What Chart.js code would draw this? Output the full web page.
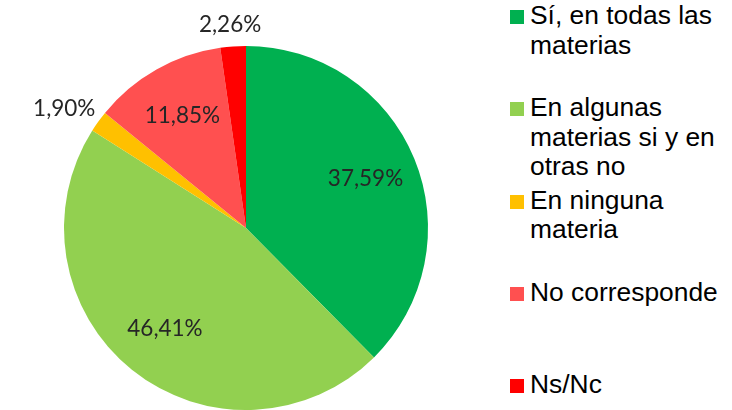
<!DOCTYPE html>
<html>
<head>
<meta charset="utf-8">
<script src="https://cdn.jsdelivr.net/npm/chart.js@4"></script>
<style>
  html, body { margin: 0; padding: 0; background: #fff; width: 732px; height: 410px; overflow: hidden; }
  #wrap { position: absolute; left: 0; top: 0; width: 492px; height: 410px; }
  #legend { position: absolute; left: 510px; top: 1px; width: 222px; font-family: "Liberation Sans", Arial, sans-serif; font-size: 26.4px; color: #000; }
  .item { height: 92.3px; position: relative; }
  .sw { position: absolute; left: 0; top: 9px; width: 14px; height: 14px; }
  .txt { position: absolute; left: 20px; top: 0; line-height: 29.5px; width: 210px; white-space: nowrap; }
</style>
</head>
<body>
<div id="wrap"><canvas id="c"></canvas></div>
<div id="legend"></div>
<script>
const categories = ["Sí, en todas las materias", "En algunas materias si y en otras no", "En ninguna materia", "No corresponde", "Ns/Nc"];
const legendLines = [["Sí, en todas las", "materias"], ["En algunas", "materias si y en", "otras no"], ["En ninguna", "materia"], ["No corresponde"], ["Ns/Nc"]];
const values = [37.59, 46.41, 1.90, 11.85, 2.26];
const valueLabels = ["37,59%", "46,41%", "1,90%", "11,85%", "2,26%"];
const colors = ["#00B050", "#92D050", "#FFC000", "#FF5050", "#FF0000"];

// legend
const lg = document.getElementById('legend');
categories.forEach((c, i) => {
  const it = document.createElement('div'); it.className = 'item';
  const sw = document.createElement('div'); sw.className = 'sw'; sw.style.background = colors[i];
  const tx = document.createElement('div'); tx.className = 'txt'; tx.innerHTML = legendLines[i].join('<br>');
  it.appendChild(sw); it.appendChild(tx); lg.appendChild(it);
});

const labelPlugin = {
  id: 'labels',
  afterDatasetsDraw(chart) {
    const ctx = chart.ctx;
    const meta = chart.getDatasetMeta(0);
    ctx.save();
    ctx.font = '400 22.5px Lato, "Open Sans", sans-serif';
    ctx.fillStyle = '#262626';
    ctx.textAlign = 'center';
    ctx.textBaseline = 'middle';
    meta.data.forEach((arc, i) => {
      const p = arc.getProps(['x', 'y', 'startAngle', 'endAngle', 'outerRadius'], true);
      const mid = (p.startAngle + p.endAngle) / 2;
      const cx = Math.cos(mid), cy = Math.sin(mid);
      let x, y;
      if (values[i] < 3) {
        const r = p.outerRadius * 1.06;
        const w = ctx.measureText(valueLabels[i]).width, h = 22;
        x = p.x + cx * r + cx * w / 2;
        y = p.y + cy * r + cy * h / 2;
      } else {
        const r = p.outerRadius * 0.71;
        x = p.x + cx * r;
        y = p.y + cy * r;
      }
      ctx.fillText(valueLabels[i], x, y);
    });
    ctx.restore();
  }
};

new Chart(document.getElementById('c'), {
  type: 'pie',
  data: {
    labels: categories,
    datasets: [{ data: values, backgroundColor: colors, borderWidth: 0 }]
  },
  options: {
    responsive: true,
    maintainAspectRatio: false,
    animation: false,
    layout: { padding: { left: 64, right: 64, top: 46, bottom: 0 } },
    plugins: { legend: { display: false }, tooltip: { enabled: false } }
  },
  plugins: [labelPlugin]
});
</script>
</body>
</html>
